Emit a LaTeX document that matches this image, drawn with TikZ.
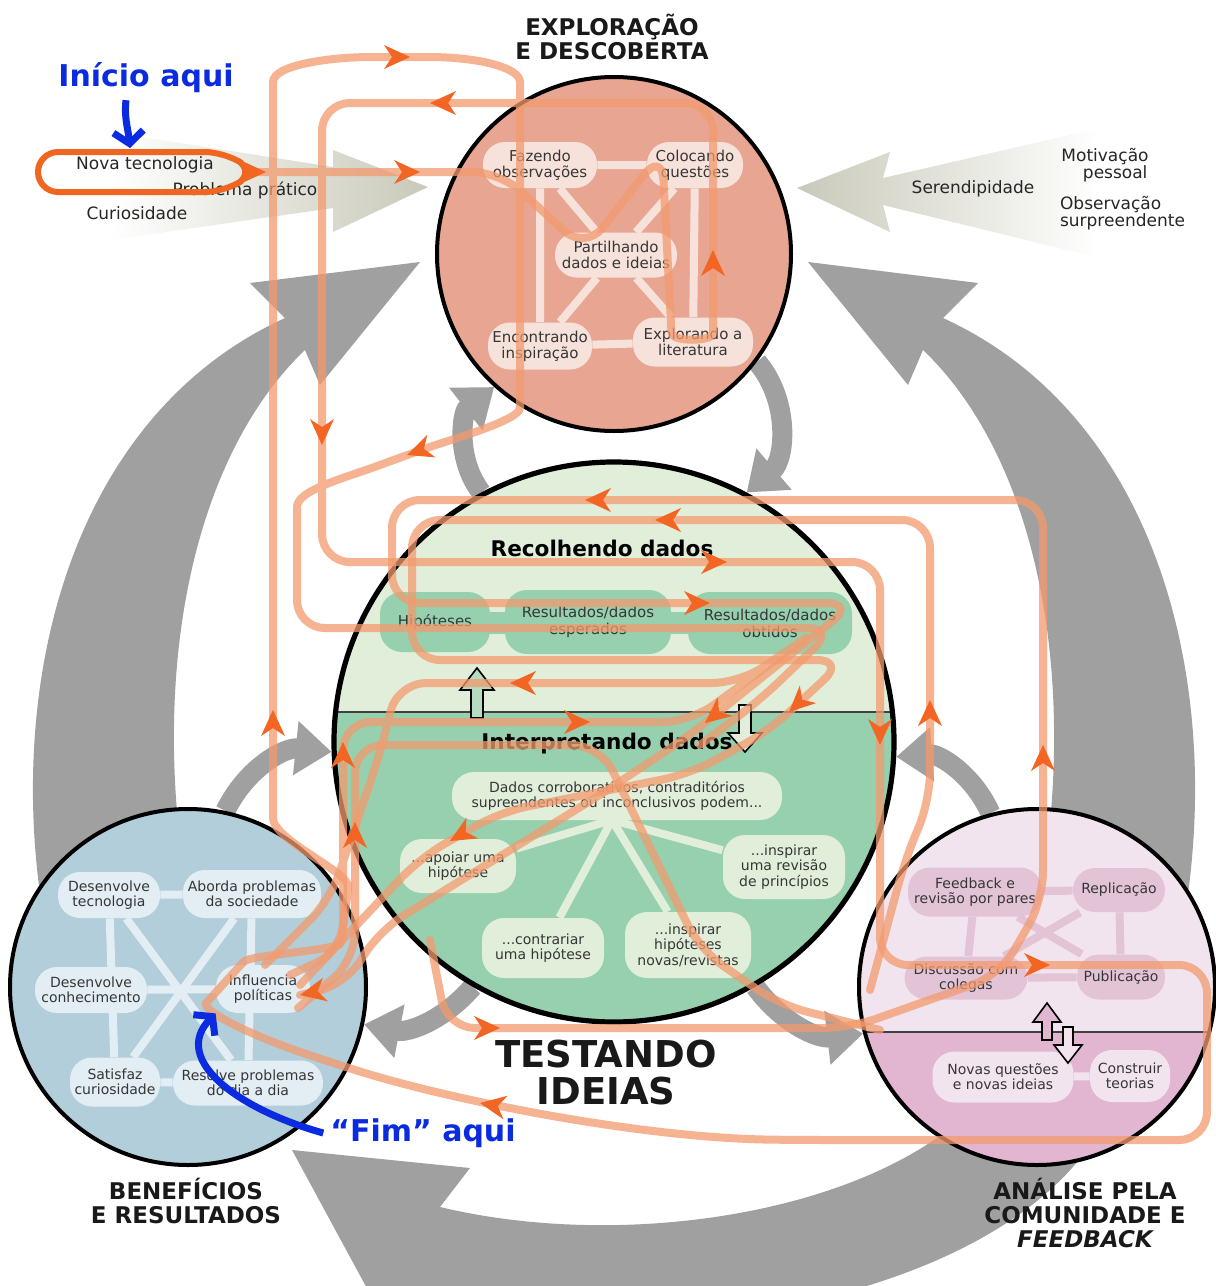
\documentclass[tikz,border=0pt]{standalone}
\usepackage{fontspec}
\setmainfont{DejaVu Sans}
\usetikzlibrary{arrows.meta}

\definecolor{ringgray}{HTML}{A0A0A0}
\definecolor{beige}{HTML}{C9C9BA}
\definecolor{exfill}{HTML}{E8A692}
\definecolor{exbox}{HTML}{F6E2DA}
\definecolor{tsupper}{HTML}{E1EEDA}
\definecolor{tslower}{HTML}{96D0AE}
\definecolor{bnfill}{HTML}{B2CEDA}
\definecolor{bnbox}{HTML}{E2EEF4}
\definecolor{rvupper}{HTML}{F2E4EE}
\definecolor{rvlower}{HTML}{E2B6D0}
\definecolor{rvbox}{HTML}{E3C4D7}
\definecolor{orline}{HTML}{F39A6E}
\definecolor{ortip}{HTML}{F26522}
\definecolor{startc}{HTML}{F0651F}
\definecolor{blueint}{HTML}{0A2BE0}
\definecolor{boxtext}{HTML}{363636}

\pgfdeclarelayer{back}
\pgfdeclarelayer{gray}
\pgfdeclarelayer{circ}
\pgfdeclarelayer{mid}
\pgfdeclarelayer{front}
\pgfsetlayers{back,gray,circ,mid,main,front}

% orange arrow head: x, y, direction
\newcommand{\otip}[3]{\fill[ortip, shift={(#1,#2)}, rotate=#3] (0,0) -- (-26,-12) -- (-18,0) -- (-26,12) -- cycle;}

\begin{document}
\begin{tikzpicture}[x=0.5pt, y=-0.5pt,
  ring/.style={fill=ringgray},
  gband/.style={draw=ringgray, line width=10pt, -{Triangle[width=26pt,length=18pt]}},
  bigcirc/.style={circle, draw=black, line width=2pt, inner sep=0pt},
  boxbase/.style={rounded corners=11pt, align=center, inner sep=0pt, text=boxtext},
  topbox/.style={boxbase, fill=exbox, font=\fontsize{7.5}{8}\selectfont},
  greenbox/.style={boxbase, fill=tslower, font=\fontsize{7.5}{8.5}\selectfont},
  palebox/.style={boxbase, fill=tsupper, font=\fontsize{7}{7.8}\selectfont},
  bluebox/.style={boxbase, fill=bnbox, font=\fontsize{7}{7.6}\selectfont},
  pinkbox/.style={boxbase, fill=rvbox, font=\fontsize{7}{7.6}\selectfont},
  lightbox/.style={boxbase, fill=rvupper, font=\fontsize{7}{7.6}\selectfont},
  link/.style={line width=4pt},
  hollow/.style={draw=black, line width=0.8pt, line join=miter},
  flow/.style={draw=orline, line width=4pt, draw opacity=.75, line cap=round, line join=round, rounded corners=14pt},
  startloop/.style={draw=startc, line width=3pt, rounded corners=10pt},
  titlelab/.style={align=center, text=black!90, font=\bfseries\fontsize{11.5}{12}\selectfont},
  sidelab/.style={align=center, text=black!85, font=\fontsize{8.5}{8.5}\selectfont},
  bluelab/.style={text=blueint, font=\bfseries\fontsize{15}{15}\selectfont},
  bluearr/.style={draw=blueint, line width=3.5pt, -{Straight Barb[length=6pt,width=15pt]}}
]
\useasboundingbox (0,0) rectangle (1216,1286);

\begin{pgfonlayer}{back}
\fill[white] (0,0) rectangle (1216,1286);
% big grey cycle
\fill[ring] (65,1010) .. controls (-10,760) and (40,430) .. (285,318) -- (250,283) -- (420,262) -- (320,385) -- (305,350) .. controls (200,450) and (150,650) .. (185,880) -- cycle;
\fill[ring] (1163,1010) .. controls (1238,760) and (1188,430) .. (943,318) -- (978,283) -- (808,262) -- (908,385) -- (923,350) .. controls (1028,450) and (1078,650) .. (1043,880) -- cycle;
\fill[ring] (960,1120) .. controls (850,1215) and (620,1250) .. (440,1207) -- (470,1168) -- (292,1150) -- (395,1340) -- (420,1300) .. controls (650,1360) and (1000,1300) .. (1100,1130) -- cycle;
% inputs
\shade[left color=white, right color=beige] (110,132) -- (333,167) -- (333,150) -- (428,187) -- (333,232) -- (333,208) -- (110,240) -- cycle;
\shade[left color=beige, right color=white] (797,188) -- (890,152) -- (883,178) -- (1100,128) -- (1100,258) -- (883,205) -- (890,232) -- cycle;
\end{pgfonlayer}

\begin{pgfonlayer}{circ}
\node[bigcirc, fill=exfill, minimum size=177pt] (explore) at (614,254) {};
\node[bigcirc, fill=bnfill, minimum size=178pt] (benefit) at (188,987) {};
\begin{scope}
  \clip (614,742) circle[radius=280];
  \fill[tsupper] (330,460) rectangle (900,712);
  \fill[tslower] (330,712) rectangle (900,1025);
  \draw[line width=1.4pt, black!75] (330,712) -- (900,712);
\end{scope}
\node[bigcirc, line width=2.6pt, minimum size=280pt] (test) at (614,742) {};
\begin{scope}
  \clip (1037,987) circle[radius=178];
  \fill[rvupper] (850,800) rectangle (1220,1032);
  \fill[rvlower] (850,1032) rectangle (1220,1170);
  \draw[line width=1pt, black!75] (850,1032) -- (1220,1032);
\end{scope}
\node[bigcirc, minimum size=178pt] (review) at (1037,987) {};
\end{pgfonlayer}

\begin{pgfonlayer}{gray}
\draw[gband] (explore.-37) to[bend left=45] (test.62);
\draw[gband] (test.118) to[bend left=45] (explore.228);
\draw[gband] (review.105) to[bend right=35] (test.-3);
\draw[gband] (test.-60) to[bend right=30] (review.195);
\draw[gband] (test.240) to[bend left=30] (benefit.-12);
\draw[gband] (benefit.78) to[bend left=35] (test.182);
\end{pgfonlayer}

% exploration
\node[topbox, minimum width=57pt, minimum height=23pt] (faz) at (540,165) {Fazendo\\observações};
\node[topbox, minimum width=48pt, minimum height=23pt] (col) at (695,165) {Colocando\\questões};
\node[topbox, minimum width=61pt, minimum height=22.5pt] (par) at (616,255) {Partilhando\\dados e ideias};
\node[topbox, minimum width=52pt, minimum height=23.5pt] (enc) at (540,346) {Encontrando\\inspiração};
\node[topbox, minimum width=60pt, minimum height=24.5pt] (lit) at (693,342) {Explorando a\\literatura};

% testing
\node[greenbox, minimum width=55pt, minimum height=30pt] (hip) at (435,622) {Hipóteses};
\node[greenbox, minimum width=83pt, minimum height=32pt] (esp) at (588,622) {Resultados/dados\\esperados};
\node[greenbox, minimum width=82pt, minimum height=31pt] (obt) at (770,623) {Resultados/dados\\obtidos};
\node[font=\bfseries\fontsize{10.8}{11}\selectfont] (recol) at (602,548) {Recolhendo dados};
\node[font=\bfseries\fontsize{10.8}{11}\selectfont] (interp) at (607,744) {Interpretando dados};
\node[palebox, minimum width=165pt, minimum height=24pt] (dados) at (617,796) {Dados corroborativos, contraditórios\\supreendentes ou inconclusivos podem...};
\node[palebox, minimum width=58pt, minimum height=27pt] (apoiar) at (458,866) {...apoiar uma\\hipótese};
\node[palebox, minimum width=61pt, minimum height=32pt] (revisao) at (784,867) {...inspirar\\uma revisão\\de princípios};
\node[palebox, minimum width=61pt, minimum height=30pt] (contra) at (543,948) {...contrariar\\uma hipótese};
\node[palebox, minimum width=63pt, minimum height=33pt] (novas) at (688,945) {...inspirar\\hipóteses\\novas/revistas};
\draw[hollow, fill=tslower!60!tsupper] (477,668) -- (494,690) -- (483,690) -- (483,718) -- (471,718) -- (471,690) -- (460,690) -- cycle;
\draw[hollow, fill=tsupper] (745,752) -- (762,733) -- (751,733) -- (751,705) -- (739,705) -- (739,733) -- (728,733) -- cycle;

% benefits
\node[bluebox, minimum width=51pt, minimum height=23pt] (dtec) at (109,895) {Desenvolve\\tecnologia};
\node[bluebox, minimum width=69pt, minimum height=24pt] (abor) at (252,894) {Aborda problemas\\da sociedade};
\node[bluebox, minimum width=56pt, minimum height=23pt] (dcon) at (91,990) {Desenvolve\\conhecimento};
\node[bluebox, minimum width=47pt, minimum height=24pt] (infl) at (263,989) {Influencia\\políticas};
\node[bluebox, minimum width=45pt, minimum height=24.5pt] (sat) at (115,1082) {Satisfaz\\curiosidade};
\node[bluebox, minimum width=75pt, minimum height=22.5pt] (res) at (248,1083) {Resolve problemas\\do dia a dia};

% review
\node[pinkbox, minimum width=67pt, minimum height=24.5pt] (feed) at (975,892) {Feedback e\\revisão por pares};
\node[pinkbox, minimum width=46pt, minimum height=22pt] (repl) at (1119,890) {Replicação};
\node[pinkbox, minimum width=61.5pt, minimum height=21.5pt] (disc) at (966,978) {Discussão com\\colegas};
\node[pinkbox, minimum width=44pt, minimum height=22.5pt] (pub) at (1121,977) {Publicação};
\node[lightbox, minimum width=70.5pt, minimum height=25.5pt] (quest) at (1003,1077) {Novas questões\\e novas ideias};
\node[lightbox, minimum width=40pt, minimum height=26pt] (teor) at (1130,1076) {Construir\\teorias};
\draw[hollow, fill=rvlower] (1047,1003) -- (1061,1022) -- (1052,1022) -- (1052,1040) -- (1042,1040) -- (1042,1022) -- (1033,1022) -- cycle;
\draw[hollow, fill=rvupper] (1068,1063) -- (1082,1045) -- (1073,1045) -- (1073,1027) -- (1063,1027) -- (1063,1045) -- (1054,1045) -- cycle;

\begin{pgfonlayer}{mid}
\draw[link, draw=exbox] (faz) -- (col) (faz) -- (enc) (col) -- (lit) (enc) -- (lit)
  (faz) -- (par) (col) -- (par) (par) -- (enc) (par) -- (lit);
\fill[tslower] (435,612) rectangle (770,634);
\coordinate (fan) at (612,820);
\draw[link, draw=tsupper] (fan) -- (apoiar) (fan) -- (revisao) (fan) -- (contra) (fan) -- (novas) (dados) -- (fan);
\draw[link, draw=bnbox] (dtec) -- (abor) (dtec) -- (sat) (abor) -- (res) (sat) -- (res)
  (dcon) -- (infl) (dtec) -- (res) (abor) -- (sat);
\draw[link, draw=rvbox] (feed) -- (repl) (feed) -- (disc) (repl) -- (pub) (disc) -- (pub)
  (feed) -- (pub) (repl) -- (disc);
\draw[link, draw=rvupper] (quest) -- (teor);
\end{pgfonlayer}

% titles and inputs
\node[titlelab] (extitle) at (612,37) {EXPLORAÇÃO\\E DESCOBERTA};
\node[titlelab] (bntitle) at (186,1201) {BENEFÍCIOS\\E RESULTADOS};
\node[titlelab] (rvtitle) at (1085,1213) {ANÁLISE PELA\\COMUNIDADE E\\{\itshape FEEDBACK}};
\node[titlelab, font=\bfseries\fontsize{18.5}{18.5}\selectfont] (tstitle) at (606,1073) {TESTANDO\\IDEIAS};
\node[sidelab] (nova) at (145,165) {Nova tecnologia};
\node[sidelab] (probl) at (245,190) {Problema prático};
\node[sidelab] (curio) at (137,213) {Curiosidade};
\node[sidelab] (motiv) at (1105,165) {Motivação\\\hspace*{1.2em}pessoal};
\node[sidelab] (seren) at (973,189) {Serendipidade};
\node[sidelab, align=left, anchor=west] (obsv) at (1053,213) {Observação\\surpreendente};

\begin{pgfonlayer}{front}
% path through the process
\draw[flow] (258,172) -- (500,172) -- (585,250) -- (662,152) -- (670,305)
  .. controls (672,342) and (713,342) .. (713,305) -- (713,103) -- (322,103) -- (322,562)
  -- (880,562) -- (880,965) -- (1207,965) -- (1207,1140) -- (800,1140)
  .. controls (640,1138) and (450,1100) .. (330,1062)
  .. controls (250,1035) and (200,1010) .. (225,982)
  .. controls (250,955) and (340,950) .. (345,915)
  .. controls (350,872) and (273,840) .. (273,790) -- (273,110)
  .. controls (273,65) and (330,57) .. (400,57)
  .. controls (480,57) and (520,68) .. (520,110) -- (520,380)
  .. controls (520,420) and (450,440) .. (407,455)
  .. controls (345,478) and (297,490) .. (297,535) -- (297,628) -- (835,628) -- (760,700) -- (700,745);
\draw[flow] (430,940) -- (447,1028) -- (850,1028) -- (1000,975) -- (1043,900) -- (1043,500)
  -- (392,500) -- (392,603) -- (855,603) -- (690,735) -- (600,795) -- (380,930) -- (345,985) -- (300,995);
\draw[flow] (870,990) -- (905,860) -- (930,800) -- (930,520) -- (412,520) -- (412,660)
  -- (845,660) -- (770,730) -- (690,774) -- (500,812) -- (420,858) -- (300,985);
\draw[flow] (290,975) -- (343,950) -- (343,722) -- (690,722) -- (820,628) -- (740,683)
  -- (398,683) -- (378,760) -- (330,900) -- (265,965);
\draw[flow] (298,1008) -- (355,960) -- (355,745) -- (600,745) -- (700,950) -- (780,1005) -- (880,1030);
\draw[startloop] (255,172) -- (225,152) -- (38,152) -- (38,192) -- (225,192) -- cycle;
\otip{266}{172}{0}
\otip{420}{172}{0}
\otip{713}{250}{90}
\otip{430}{103}{180}
\otip{322}{445}{270}
\otip{727}{562}{0}
\otip{880}{745}{270}
\otip{1050}{965}{0}
\otip{480}{1103}{170}
\otip{273}{710}{90}
\otip{410}{57}{0}
\otip{407}{455}{200}
\otip{585}{500}{180}
\otip{710}{603}{0}
\otip{1043}{745}{90}
\otip{500}{1028}{0}
\otip{655}{520}{180}
\otip{930}{700}{90}
\otip{510}{683}{180}
\otip{590}{722}{0}
\otip{343}{742}{90}
\otip{355}{822}{90}
\otip{705}{723}{219}
\otip{789}{712}{223}
\otip{450}{841}{210}
\otip{300}{995}{192}
% start and end
\node[bluelab] (inicio) at (146,78) {Início aqui};
\coordinate (looptop) at (130,148);
\draw[bluearr] ([xshift=-10pt]inicio.south) .. controls (124,118) and (128,128) .. (looptop);
\node[bluelab] (fim) at (423,1133) {“Fim” aqui};
\draw[bluearr] (fim.west) .. controls (240,1110) and (170,1060) .. (infl.south west);
\end{pgfonlayer}
\end{tikzpicture}
\end{document}
